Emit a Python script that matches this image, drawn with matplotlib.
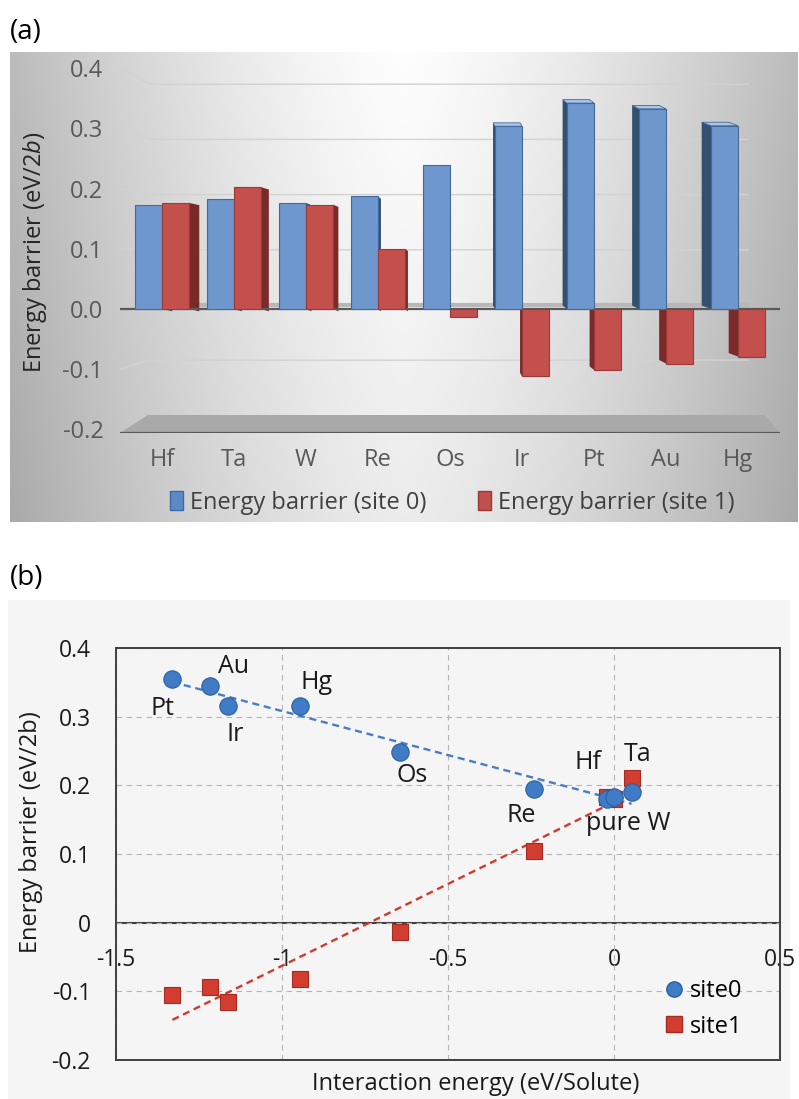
import numpy as np
import matplotlib
matplotlib.use("Agg")
import matplotlib.pyplot as plt
from matplotlib.patches import Polygon, Rectangle, Patch
from matplotlib.lines import Line2D

# ---- data ----
elements = ["Hf", "Ta", "W", "Re", "Os", "Ir", "Pt", "Au", "Hg"]
barrier_site0 = [0.180, 0.190, 0.183, 0.194, 0.248, 0.315, 0.355, 0.345, 0.316]
barrier_site1 = [0.183, 0.210, 0.180, 0.104, -0.013, -0.116, -0.105, -0.094, -0.082]
interaction = [-0.020, 0.053, 0.000, -0.241, -0.645, -1.163, -1.330, -1.217, -0.946]
point_labels = ["Hf", "Ta", "pure W", "Re", "Os", "Ir", "Pt", "Au", "Hg"]

a_yticks = [0.4, 0.3, 0.2, 0.1, 0.0, -0.1, -0.2]
a_ytick_labels = ["0.4", "0.3", "0.2", "0.1", "0.0", "-0.1", "-0.2"]
b_xticks = [-1.5, -1.0, -0.5, 0.0, 0.5]
b_xtick_labels = ["-1.5", "-1", "-0.5", "0", "0.5"]
b_yticks = [0.4, 0.3, 0.2, 0.1, 0.0, -0.1, -0.2]
b_ytick_labels = ["0.4", "0.3", "0.2", "0.1", "0", "-0.1", "-0.2"]

# label offsets in points from the site0 marker
label_offsets = {"Hf": (-14, 26), "Ta": (4, 27), "pure W": (10, -19), "Re": (-9, -19),
                 "Os": (9, -17), "Ir": (5, -20), "Pt": (-7, -21), "Au": (17, 14), "Hg": (12, 17)}

plt.rcParams['font.family'] = ['Open Sans', 'DejaVu Sans']
plt.rcParams['mathtext.fontset'] = 'custom'
plt.rcParams['mathtext.it'] = 'Open Sans:italic'
plt.rcParams['mathtext.rm'] = 'Open Sans'

W_PX, H_PX = 799, 1099
fig = plt.figure(figsize=(W_PX / 100, H_PX / 100), dpi=100)


def rect(l, t, r, b):
    return [l / W_PX, 1 - b / H_PX, (r - l) / W_PX, (b - t) / H_PX]


# ================= panel (a) =================
bg = fig.add_axes(rect(10, 52, 798, 522), zorder=0)
gx = np.linspace(0, 1, 300)[None, :]
gy = np.linspace(0, 1, 200)[:, None]
shade = 0.995 - 0.26 * np.abs(2 * gx - 1) ** 1.4 - 0.07 * gy
bg.imshow(np.dstack([shade] * 3), aspect='auto', extent=(0, 1, 0, 1))
bg.axis('off')

ax = fig.add_axes(rect(120, 68, 780, 433), zorder=1)
ax.set_facecolor('none')


def px_x(p):
    return (p - 162) / 72.0


def px_y(p):
    return (309 - p) / 580.0


def front(v):
    return px_y(309 - 602 * v)


def back(v):
    return px_y(305 - 552 * v)


ax.set_xlim(px_x(120), px_x(780))
ax.set_ylim(px_y(433), px_y(68))

# walls / grid
x_wall, x_end = px_x(150), px_x(748)
for v in [0.4, 0.3, 0.2, 0.1, -0.1]:
    ax.plot([px_x(120), x_wall, x_end], [front(v), back(v), back(v)],
            color='#d2d2d2', lw=1.0, zorder=1)
ax.plot([x_wall, x_end], [back(0), back(0)], color='#b8b8b8', lw=3, zorder=1)
floor = Polygon([(px_x(120), px_y(433)), (px_x(148), px_y(415)),
                 (px_x(765), px_y(415)), (px_x(780), px_y(433))],
                closed=True, fc='#a9a9a9', ec='none', zorder=1)
ax.add_patch(floor)
ax.plot([px_x(120), px_x(780)], [px_y(433)] * 2, color='#595959', lw=1.6, zorder=1)

xs = np.arange(len(elements))
w = 0.375
center = 4.2
series = [(barrier_site0, -w / 2, '#6d97cd', '#46699a', '#33506f', '#a9c5ea'),
          (barrier_site1, w / 2, '#c4504e', '#9a3936', '#7a2b29', '#d98a88')]
for vals, off, fc, ec, side_c, top_c in series:
    for i, v in enumerate(vals):
        x0 = xs[i] + off - w / 2
        x1 = x0 + w
        s = 0.034 * (center - i)
        edge = x1 if s > 0 else x0
        dy = -0.004 if s > 0 else 0.006
        ax.add_patch(Polygon([(edge, 0), (edge, v), (edge + s, v + dy), (edge + s, dy)],
                             closed=True, fc=side_c, ec='none', zorder=2))
        if s < 0 and v > 0:
            ax.add_patch(Polygon([(x0, v), (x1, v), (x1 + s, v + dy), (x0 + s, v + dy)],
                                 closed=True, fc=top_c, ec=ec, lw=0.6, zorder=2))
    ax.bar(xs + off, vals, w, color=fc, edgecolor=ec, lw=0.8, zorder=3)

ax.plot([px_x(120), px_x(780)], [front(0)] * 2, color='#595959', lw=1.6, zorder=2.5)

ax.set_xticks(xs)
ax.set_xticklabels(elements)
ax.set_yticks([front(v) for v in a_yticks])
ax.set_yticklabels(a_ytick_labels)
ax.tick_params(length=0, labelsize=17, colors='#595959')
ax.tick_params(axis='x', pad=11)
ax.tick_params(axis='y', pad=12)
for sp in ax.spines.values():
    sp.set_visible(False)

handles = [Patch(fc='#5b8bc6', ec='#3d6aa5'), Patch(fc='#c0504d', ec='#9a3936')]
fig.legend(handles, ["Energy barrier (site 0)", "Energy barrier (site 1)"],
           loc='center', bbox_to_anchor=(452 / W_PX, 1 - 503 / H_PX), ncol=2,
           frameon=False, fontsize=17, handlelength=0.55, handleheight=0.85,
           columnspacing=2.2, handletextpad=0.3, labelcolor='#404040')

fig.text(35 / W_PX, 1 - 252 / H_PX, r"Energy barrier (eV/2$\mathit{b}$)", rotation=90,
         ha='center', va='center', fontsize=17, color='#262626')
fig.text(10 / W_PX, 1 - 32 / H_PX, "(a)", ha='left', va='center', fontsize=20)

# ================= panel (b) =================
fig.add_artist(Rectangle((8 / W_PX, 0), 782 / W_PX, 1 - 600 / H_PX,
                         transform=fig.transFigure, fc='#f5f5f5', ec='none', zorder=0))
fig.text(10 / W_PX, 1 - 578 / H_PX, "(b)", ha='left', va='center', fontsize=20)

bx = fig.add_axes(rect(116, 648, 780, 1060), zorder=1)
bx.set_facecolor('#f5f5f5')
bx.set_xlim(-1.5, 0.5)
bx.set_ylim(-0.2, 0.4)
bx.set_xticks(b_xticks)
bx.set_xticklabels([])
bx.set_yticks(b_yticks)
bx.set_yticklabels(b_ytick_labels)
bx.tick_params(length=0, labelsize=16.5, colors='#1a1a1a')
bx.tick_params(axis='y', pad=18)
bx.grid(True, ls=(0, (5, 4)), color='#b4b4b4', lw=0.8)
for sp in bx.spines.values():
    sp.set_color('#404040')
    sp.set_linewidth(1.4)

sec = bx.secondary_xaxis(1 / 3)
sec.set_xticks(b_xticks, labels=b_xtick_labels)
sec.tick_params(length=0, labelsize=16.5, pad=18, colors='#1a1a1a')
sec.spines['bottom'].set_color('#404040')
sec.spines['bottom'].set_linewidth(1.5)

ix = np.array(interaction)
xfit = np.array([ix.min(), ix.max()])
fit0 = np.polyfit(ix, barrier_site0, 1)
fit1 = np.polyfit(ix, barrier_site1, 1)
bx.plot(xfit, np.polyval(fit0, xfit), ls=(0, (3, 2)), color='#4a7cc4', lw=1.7, zorder=4)
bx.plot(xfit, np.polyval(fit1, xfit), ls=(0, (3, 2)), color='#d0392e', lw=1.7, zorder=4)

bx.plot(ix, barrier_site1, 's', ms=12, mfc='#d33d2f', mec='#a32c22', mew=0.8, zorder=5)
bx.plot(ix, barrier_site0, 'o', ms=12.5, mfc='#3f7cc5', mec='#2d5f9e', mew=0.8, zorder=6)

for xv, yv, lab in zip(interaction, barrier_site0, point_labels):
    bx.annotate(lab, (xv, yv), xytext=label_offsets[lab], textcoords='offset points',
                ha='center', va='center', fontsize=18, color='#1a1a1a', zorder=7)

leg_handles = [Line2D([], [], marker='o', ls='none', ms=11, mfc='#3f7cc5', mec='#2d5f9e'),
               Line2D([], [], marker='s', ls='none', ms=11, mfc='#d33d2f', mec='#a32c22')]
bx.legend(leg_handles, ["site0", "site1"], loc='lower right', bbox_to_anchor=(0.975, 0.0),
          frameon=False, fontsize=17, handletextpad=0.15, labelspacing=0.5, handlelength=1.0)

fig.text(31 / W_PX, 1 - 832 / H_PX, "Energy barrier (eV/2b)", rotation=90,
         ha='center', va='center', fontsize=17, color='#1a1a1a')
fig.text(476 / W_PX, 1 - 1084 / H_PX, "Interaction energy (eV/Solute)",
         ha='center', va='center', fontsize=17, color='#1a1a1a')

fig.savefig("out.png", dpi=100)
